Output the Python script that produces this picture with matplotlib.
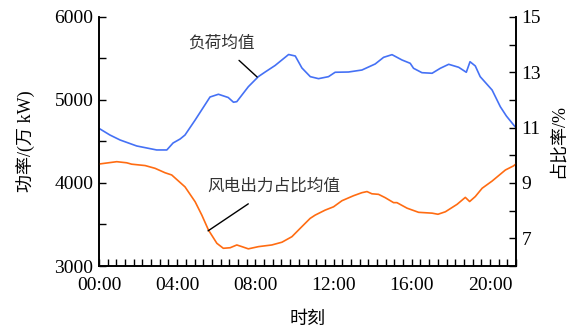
import numpy as np
import matplotlib
matplotlib.use('Agg')
import matplotlib.pyplot as plt
from matplotlib.ticker import MultipleLocator, FixedLocator

#---Fonts: serif for numbers, CJK fallback for the Chinese labels
plt.rcParams['font.family'] = ['Liberation Serif', 'Noto Sans CJK SC']

#---Daily mean load (万 kW), hour of day
load_hours = [0.05, 0.56, 1.08, 1.93, 2.95, 3.47, 3.79, 4.15, 4.40, 4.92, 5.68, 6.11,
              6.61, 6.88, 7.05, 7.64, 8.15, 8.50, 9.01, 9.70, 10.04, 10.38, 10.81,
              11.23, 11.74, 12.08, 12.76, 13.45, 14.13, 14.56, 14.99, 15.50, 15.92,
              16.09, 16.52, 17.04, 17.46, 17.89, 18.40, 18.79, 18.98, 19.25, 19.50,
              20.11, 20.53, 20.84, 21.21, 21.30]
load_mean = [4651, 4578, 4518, 4446, 4398, 4398, 4482, 4530, 4578, 4759, 5036, 5069,
             5030, 4973, 4980, 5160, 5281, 5337, 5416, 5548, 5530, 5386, 5281,
             5257, 5281, 5334, 5337, 5361, 5434, 5514, 5546, 5482, 5442,
             5382, 5329, 5322, 5382, 5430, 5394, 5334, 5461, 5410, 5281,
             5120, 4919, 4807, 4699, 4675]

#---Mean wind power share (%)
wind_hours = [0.05, 0.91, 1.42, 1.67, 2.36, 2.87, 3.38, 3.72, 4.40, 4.92, 5.26, 5.60,
              6.03, 6.36, 6.71, 7.05, 7.31, 7.64, 8.16, 8.84, 9.36, 9.87, 10.29,
              10.80, 11.06, 11.57, 12.00, 12.43, 13.02, 13.45, 13.71, 13.96, 14.30,
              14.64, 15.07, 15.24, 15.76, 16.35, 17.04, 17.34, 17.72, 18.32, 18.74,
              18.96, 19.25, 19.60, 20.11, 20.79, 21.21, 21.33]
wind_share = [9.69, 9.77, 9.73, 9.68, 9.63, 9.53, 9.37, 9.29, 8.86, 8.32, 7.84, 7.30,
              6.82, 6.64, 6.66, 6.76, 6.70, 6.62, 6.70, 6.76, 6.86, 7.06, 7.36,
              7.72, 7.84, 8.02, 8.14, 8.36, 8.54, 8.65, 8.69, 8.61, 8.59,
              8.47, 8.29, 8.29, 8.09, 7.94, 7.91, 7.87, 7.96, 8.23, 8.48,
              8.33, 8.51, 8.81, 9.07, 9.47, 9.62, 9.69]

time_ticks = [0, 4, 8, 12, 16, 20]
time_labels = ['00:00', '04:00', '08:00', '12:00', '16:00', '20:00']

fig = plt.figure(figsize=(5.84, 3.33), dpi=100)
ax = fig.add_axes([0.1695, 0.2012, 0.7141, 0.7478])
ax2 = ax.twinx()

ax.plot(load_hours, load_mean, color='#4571f5', lw=1.2)
ax2.plot(wind_hours, wind_share, color='#ff6c12', lw=1.2)

ax.set_xlim(0, 48 * 4 / 9)
ax.set_ylim(3000, 6000)
ax2.set_ylim(6, 15)

ax.xaxis.set_major_locator(FixedLocator(time_ticks))
ax.set_xticklabels(time_labels)
ax.xaxis.set_minor_locator(MultipleLocator(4 / 9))
ax.yaxis.set_major_locator(MultipleLocator(1000))
ax.yaxis.set_minor_locator(MultipleLocator(500))
ax2.yaxis.set_major_locator(FixedLocator([7, 9, 11, 13, 15]))
ax2.yaxis.set_minor_locator(MultipleLocator(1))

for a in (ax, ax2):
    a.spines['top'].set_visible(False)
    for s in a.spines.values():
        s.set_linewidth(1.2)
    a.tick_params(which='both', direction='in', width=1.0, labelsize=14)
    a.tick_params(which='major', length=5)
    a.tick_params(which='minor', length=5)
ax.tick_params(axis='x', pad=8)
ax.tick_params(axis='y', pad=4)
ax2.tick_params(axis='y', pad=4)

ax.set_xlabel('时刻', fontsize=13, labelpad=12)
ax.set_ylabel('功率/(万 kW)', fontsize=13, labelpad=14)
ax2.set_ylabel('占比率/%', fontsize=13, rotation=90, labelpad=6)

ax.annotate('负荷均值', xy=(8.09, 5277), xytext=(6.25, 5675),
            ha='center', va='center', fontsize=12, color='#333333',
            arrowprops=dict(arrowstyle='-', color='black', lw=1.0, shrinkA=6, shrinkB=0))
ax2.annotate('风电出力占比均值', xy=(5.58, 7.27), xytext=(8.93, 8.86),
             ha='center', va='center', fontsize=12, color='#333333',
             arrowprops=dict(arrowstyle='-', color='black', lw=1.0, shrinkA=8, shrinkB=0))

plt.savefig('out.png', dpi=100)
